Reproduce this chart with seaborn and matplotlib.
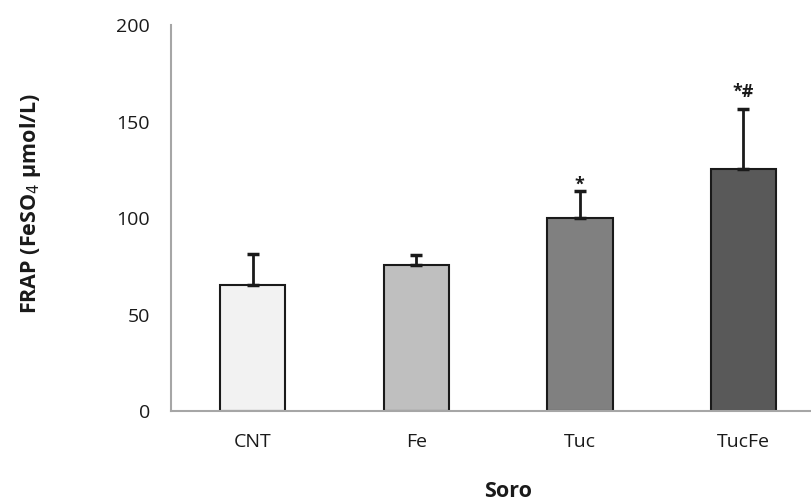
import numpy as np
import pandas as pd
import matplotlib
matplotlib.use("Agg")
import matplotlib.pyplot as plt
import seaborn as sns

# Values
groups = ["CNT", "Fe", "Tuc", "TucFe"]
frap_mean = [65.5, 75.5, 100.2, 125.5]
frap_sd = [16.0, 5.2, 14.0, 31.0]
sig_marks = ["", "", "*", "*#"]
bar_colors = ["#f2f2f2", "#bfbfbf", "#808080", "#595959"]

sns.set_theme(style="white")
plt.rcParams["font.family"] = ["Open Sans", "DejaVu Sans"]

df = pd.DataFrame({"group": groups, "frap": frap_mean, "sd": frap_sd})

fig = plt.figure(figsize=(8.12, 5.04), dpi=100)
ax = fig.add_axes([0.2106, 0.1845, 0.7894, 0.7659])

sns.barplot(data=df, x="group", y="frap", hue="group", palette=bar_colors,
            width=0.4, edgecolor="#1a1a1a", linewidth=1.5, legend=False, ax=ax)

# upper-only error bars
xs = np.arange(len(groups))
ax.errorbar(xs, df["frap"], yerr=[np.zeros(len(groups)), df["sd"]],
            fmt="none", ecolor="#1a1a1a", elinewidth=2, capsize=4, capthick=2.5)

# significance marks sit a little above the caps
mark_gap = [0, 0, 0.5, 6]
for x, m, s, lab, g in zip(xs, frap_mean, frap_sd, sig_marks, mark_gap):
    if lab:
        ax.text(x, m + s + g, lab, ha="center", va="baseline", fontsize=13,
                fontweight="bold", color="#1a1a1a")

ax.set_xlim(-0.5, 3.42)
ax.set_ylim(0, 200)
ax.set_yticks([0, 50, 100, 150, 200])
ax.tick_params(axis="both", length=0, labelsize=14, colors="#1a1a1a")
ax.tick_params(axis="x", pad=16)
ax.tick_params(axis="y", pad=15)
ax.set_xlabel("")
ax.set_ylabel("")
for side in ["top", "right"]:
    ax.spines[side].set_visible(False)
for side in ["left", "bottom"]:
    ax.spines[side].set_color("#a6a6a6")
    ax.spines[side].set_linewidth(1.5)

fig.text(0.037, 0.597, "FRAP (FeSO$_4$ µmol/L)", rotation=90, ha="center",
         va="center", fontsize=15.5, fontweight="bold", color="#1a1a1a")
fig.text(0.626, 0.024, "Soro", ha="center", va="center", fontsize=15.5,
         fontweight="bold", color="#1a1a1a")

fig.savefig("out.png", dpi=100, facecolor="white")
